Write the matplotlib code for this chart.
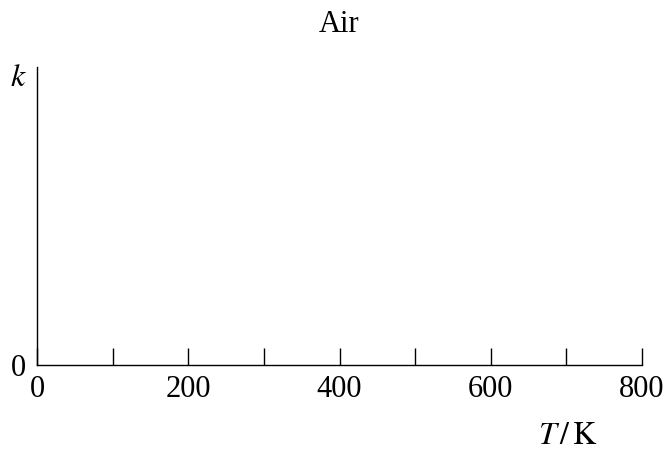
import matplotlib
matplotlib.use("Agg")
import matplotlib.pyplot as plt

title = "Air"
x_ticks = [0, 100, 200, 300, 400, 500, 600, 700, 800]
x_tick_labels = ["0", "", "200", "", "400", "", "600", "", "800"]
y_ticks = [0]
y_tick_labels = ["0"]

plt.rcParams['font.family'] = ['Liberation Serif', 'DejaVu Serif']
plt.rcParams['mathtext.fontset'] = 'stix'

fig = plt.figure(figsize=(6.67, 4.54), dpi=100)
ax = fig.add_axes([0.0555, 0.196, 0.907, 0.657])
ax.set_xlim(0, 800)
ax.set_ylim(0, 1)
for s in ['top', 'right']:
    ax.spines[s].set_visible(False)
ax.spines['left'].set_linewidth(1.0)
ax.spines['bottom'].set_linewidth(1.0)
ax.set_xticks(x_ticks)
ax.set_xticklabels(x_tick_labels)
ax.set_yticks(y_ticks)
ax.set_yticklabels(y_tick_labels)
ax.tick_params(axis='x', direction='in', length=12, width=1.0, labelsize=22, pad=7)
ax.tick_params(axis='y', length=0, labelsize=22, pad=8)
ax.set_title(title, fontsize=22, pad=25)
fig.text(18/667, 1 - 78/454, "$k$", fontsize=23, ha='center', va='center')
fig.text(568/667, 1 - 437/454, "$T\\,/\\,\\mathrm{K}$", fontsize=23, ha='center', va='center')
fig.savefig("out.png", dpi=100)
